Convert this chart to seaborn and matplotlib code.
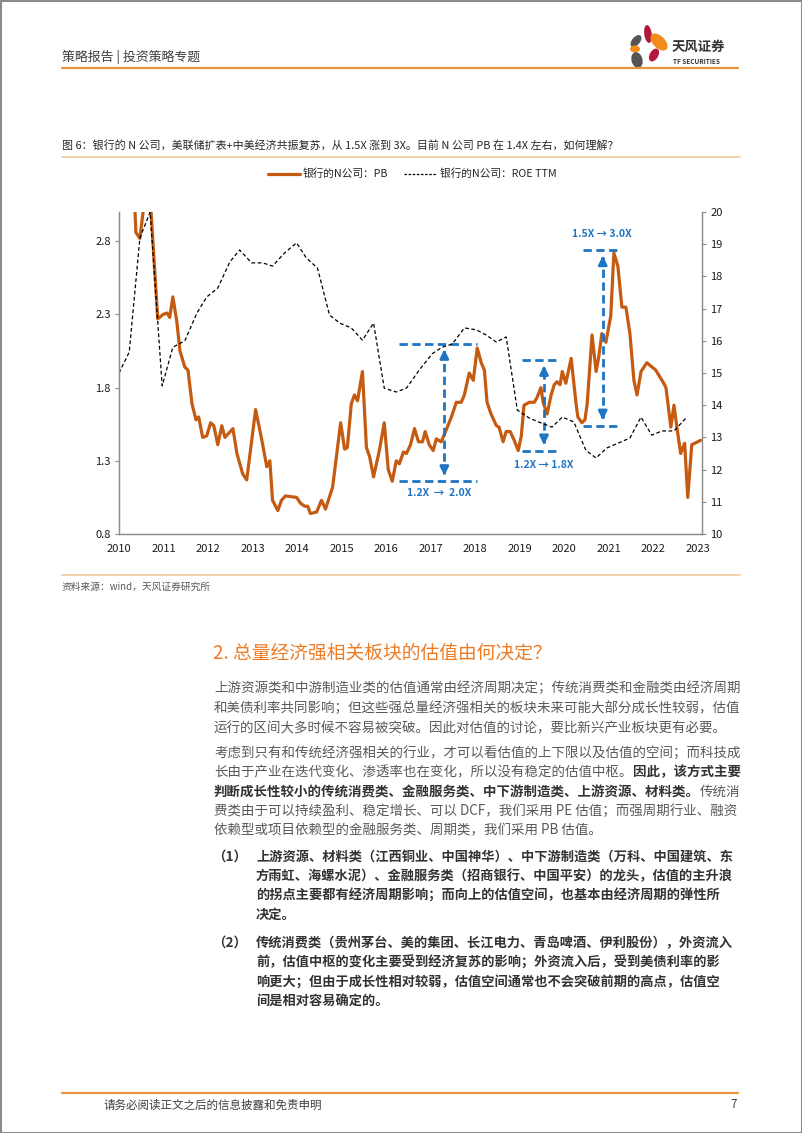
import numpy as np
import pandas as pd
import matplotlib
matplotlib.use("Agg")
import matplotlib.pyplot as plt
from matplotlib.patches import Ellipse, Rectangle
from matplotlib.lines import Line2D
import seaborn as sns

# ---------------- data ----------------
pb_year = [2010.30, 2010.38, 2010.47, 2010.60, 2010.70, 2010.87, 2010.99, 2011.08, 2011.14,
           2011.21, 2011.30, 2011.37, 2011.48, 2011.55, 2011.64, 2011.73, 2011.79, 2011.88,
           2011.97, 2012.06, 2012.13, 2012.22, 2012.31, 2012.38, 2012.56, 2012.65, 2012.78,
           2012.87, 2013.07, 2013.21, 2013.32, 2013.39, 2013.45, 2013.57, 2013.65, 2013.74,
           2013.99, 2014.08, 2014.17, 2014.24, 2014.30, 2014.44, 2014.55, 2014.64, 2014.80,
           2014.98, 2015.07, 2015.13, 2015.22, 2015.29, 2015.36, 2015.47, 2015.56, 2015.63,
           2015.72, 2015.85, 2015.96, 2016.05, 2016.14, 2016.23, 2016.30, 2016.39, 2016.46,
           2016.55, 2016.64, 2016.73, 2016.82, 2016.88, 2016.97, 2017.06, 2017.13, 2017.24,
           2017.31, 2017.47, 2017.58, 2017.69, 2017.76, 2017.87, 2017.96, 2018.05, 2018.14,
           2018.21, 2018.27, 2018.36, 2018.48, 2018.54, 2018.63, 2018.70, 2018.79, 2018.88,
           2018.97, 2019.04, 2019.10, 2019.22, 2019.33, 2019.39, 2019.48, 2019.53, 2019.62,
           2019.71, 2019.78, 2019.84, 2019.91, 2019.96, 2020.04, 2020.16, 2020.27, 2020.31,
           2020.40, 2020.47, 2020.52, 2020.63, 2020.72, 2020.78, 2020.85, 2020.94, 2021.05,
           2021.12, 2021.21, 2021.30, 2021.39, 2021.48, 2021.57, 2021.64, 2021.73, 2021.86,
           2022.06, 2022.24, 2022.29, 2022.40, 2022.47, 2022.54, 2022.62, 2022.71, 2022.78,
           2022.87, 2023.07]
pb_value = [3.40, 2.86, 2.82, 3.15, 3.10, 2.27, 2.30, 2.31, 2.28,
            2.42, 2.25, 2.05, 1.94, 1.92, 1.69, 1.58, 1.60, 1.46,
            1.47, 1.56, 1.54, 1.41, 1.54, 1.46, 1.52, 1.35, 1.21,
            1.17, 1.65, 1.44, 1.26, 1.30, 1.03, 0.96, 1.03, 1.06,
            1.05, 1.01, 0.99, 0.99, 0.94, 0.95, 1.03, 0.97, 1.12,
            1.56, 1.38, 1.39, 1.69, 1.75, 1.71, 1.91, 1.39, 1.33,
            1.19, 1.37, 1.56, 1.24, 1.16, 1.30, 1.28, 1.36, 1.35,
            1.41, 1.52, 1.43, 1.43, 1.50, 1.41, 1.37, 1.45, 1.43,
            1.48, 1.60, 1.70, 1.70, 1.75, 1.90, 1.85, 2.07, 1.97,
            1.92, 1.70, 1.62, 1.54, 1.53, 1.43, 1.50, 1.50, 1.44,
            1.37, 1.47, 1.68, 1.70, 1.70, 1.73, 1.80, 1.70, 1.62,
            1.75, 1.82, 1.84, 1.82, 1.91, 1.83, 2.00, 1.69, 1.60,
            1.56, 1.58, 1.69, 2.16, 1.91, 2.01, 2.17, 2.11, 2.29,
            2.72, 2.63, 2.35, 2.35, 2.17, 1.85, 1.75, 1.91, 1.97,
            1.92, 1.83, 1.80, 1.53, 1.68, 1.52, 1.35, 1.42, 1.05,
            1.41, 1.44]

roe_year = [2010.00, 2010.23, 2010.47, 2010.70, 2010.97, 2011.21, 2011.48, 2011.75, 2011.97,
            2012.22, 2012.49, 2012.71, 2012.98, 2013.23, 2013.45, 2013.72, 2013.99, 2014.21,
            2014.46, 2014.73, 2014.96, 2015.22, 2015.47, 2015.72, 2015.96, 2016.23, 2016.46,
            2016.75, 2017.04, 2017.26, 2017.49, 2017.76, 2018.03, 2018.25, 2018.48, 2018.70,
            2018.95, 2019.22, 2019.48, 2019.73, 2019.96, 2020.22, 2020.49, 2020.72, 2020.96,
            2021.23, 2021.48, 2021.73, 2021.97, 2022.20, 2022.47, 2022.74]
roe_value = [15.0, 15.65, 19.2, 20.0, 14.6, 15.8, 16.0, 16.86, 17.36,
             17.64, 18.45, 18.82, 18.42, 18.42, 18.32, 18.73, 19.04, 18.57,
             18.26, 16.8, 16.55, 16.4, 16.02, 16.55, 14.53, 14.41, 14.53,
             15.1, 15.6, 15.8, 15.9, 16.4, 16.34, 16.18, 15.96, 16.12,
             13.85, 13.6, 13.45, 13.32, 13.63, 13.48, 12.6, 12.36, 12.67,
             12.83, 12.98, 13.63, 13.07, 13.2, 13.2, 13.6]

year_ticks = list(range(2010, 2024))
pb_ticks = [0.8, 1.3, 1.8, 2.3, 2.8]
roe_ticks = list(range(10, 21))

# annotation boxes: (x of arrow, x from, x to, low PB, high PB, label, label x, label y)
notes = [
    (2017.31, 2016.30, 2018.05, 1.16, 2.10, "1.2X  →  2.0X", 2017.20, 1.08),
    (2019.55, 2019.06, 2019.91, 1.37, 1.99, "1.2X → 1.8X", 2019.55, 1.27),
    (2020.87, 2020.43, 2021.23, 1.54, 2.74, "1.5X → 3.0X", 2020.84, 2.85),
]

df_pb = pd.DataFrame({"year": pb_year, "pb": pb_value})
df_roe = pd.DataFrame({"year": roe_year, "roe": roe_value})

W, H = 802, 1133
ORANGE_LINE = "#C55A11"
BLUE = "#1F74C4"
HEAD_ORANGE = "#E9913B"
LIGHT_ORANGE = "#F6CDA8"
TXT = "#595959"
DARK = "#333333"

sns.set_style("white")
plt.rcParams["font.family"] = ["Noto Sans CJK SC", "DejaVu Sans"]
plt.rcParams["axes.unicode_minus"] = False

fig = plt.figure(figsize=(W / 100, H / 100), dpi=100)

# page layer in pixel coordinates
pg = fig.add_axes([0, 0, 1, 1], zorder=0)
pg.set_xlim(0, W)
pg.set_ylim(H, 0)
pg.set_axis_off()

# ---------------- chart ----------------
ax = fig.add_axes([119 / W, 1 - 534 / H, 583 / W, 322 / H], zorder=2)
ax.patch.set_alpha(0)
sns.lineplot(data=df_pb, x="year", y="pb", ax=ax, color=ORANGE_LINE, linewidth=2.3,
             estimator=None, sort=False, legend=False)
ax2 = ax.twinx()
sns.lineplot(data=df_roe, x="year", y="roe", ax=ax2, color="black", linewidth=0.9,
             estimator=None, sort=False, legend=False)
ax2.lines[0].set_dashes([3, 2])

ax.set_xlim(2010, 2023.1)
ax.set_ylim(0.8, 3.0)
ax2.set_ylim(10, 20)
ax.set_xticks(year_ticks)
ax.set_xticklabels([str(y) for y in year_ticks])
ax.set_yticks(pb_ticks)
ax.set_yticklabels([f"{v:.1f}" for v in pb_ticks])
ax2.set_yticks(roe_ticks)
for a in (ax, ax2):
    a.set_xlabel("")
    a.set_ylabel("")
    for s in a.spines.values():
        s.set_color("#8C8C8C")
        s.set_linewidth(0.9)
    a.spines["top"].set_visible(False)
    a.tick_params(labelsize=8, colors="#8C8C8C", labelcolor="#1A1A1A", length=3, width=0.8,
                  direction="out", pad=3)
ax.tick_params(axis="x", pad=4)

# blue dashed brackets and arrows
for xa, x0, x1, lo, hi, label, lx, ly in notes:
    for yy in (lo, hi):
        ax.plot([x0, x1], [yy, yy], color=BLUE, lw=2.0, dashes=(3, 1.6), solid_capstyle="butt")
    ax.plot([xa, xa], [lo + 0.05, hi - 0.05], color=BLUE, lw=2.0, dashes=(3, 1.6))
    ax.annotate("", xy=(xa, hi - 0.02), xytext=(xa, hi - 0.09),
                arrowprops=dict(arrowstyle="-|>,head_length=0.5,head_width=0.25", color=BLUE, lw=2))
    ax.annotate("", xy=(xa, lo + 0.02), xytext=(xa, lo + 0.09),
                arrowprops=dict(arrowstyle="-|>,head_length=0.5,head_width=0.25", color=BLUE, lw=2))
    ax.text(lx, ly, label, color=BLUE, fontsize=7.5, fontweight="bold", ha="center", va="center")

# legend above the plot
handles = [Line2D([], [], color=ORANGE_LINE, lw=2.3),
           Line2D([], [], color="black", lw=0.9, dashes=[2, 1.3])]
fig.legend(handles, ["银行的N公司：PB", "银行的N公司：ROE TTM"], loc="center",
           bbox_to_anchor=(412 / W, 1 - 174 / H), ncol=2, frameon=False, fontsize=7.7,
           handlelength=3.0, columnspacing=1.5, handletextpad=0.3)

# ---------------- page decorations ----------------
def put(x, y, s, **kw):
    kw.setdefault("va", "center")
    kw.setdefault("ha", "left")
    return pg.text(x, y, s, **kw)

renderer = fig.canvas.get_renderer()

def right_edge(t):
    return t.get_window_extent(renderer).x1

# header
put(62, 57, "策略报告 | 投资策略专题", fontsize=9.3, color="#3F3F3F")
pg.plot([62, 738], [68, 68], color=HEAD_ORANGE, lw=1.6)
petals = [
    ((648, 34), 7.5, 18, -8, "#B3173B"),
    ((636, 41), 8, 14, 40, "#555555"),
    ((659, 42), 12, 21, -45, "#F28C1A"),
    ((635, 49), 10, 7, 0, "#F28C1A"),
    ((654, 55), 8.5, 14, 30, "#B3173B"),
    ((637, 60), 11, 16, -15, "#555555"),
]
for c, w, h, ang, col in petals:
    pg.add_patch(Ellipse(c, w, h, angle=ang, color=col, lw=0))
put(672, 47, "天风证券", fontsize=9.6, fontweight="bold", color="#333333")
put(673, 62, "TF SECURITIES", fontsize=4.6, fontweight="bold", color="#333333")

# figure caption
put(62, 145, "图 6：银行的 N 公司，美联储扩表+中美经济共振复苏，从 1.5X 涨到 3X。目前 N 公司 PB 在 1.4X 左右，如何理解？",
    fontsize=7.9, color="#262626")
pg.plot([62, 740], [157, 157], color=LIGHT_ORANGE, lw=1.3)
pg.plot([62, 740], [575, 575], color=LIGHT_ORANGE, lw=1.3)
put(62, 587, "资料来源：wind，天风证券研究所", fontsize=7.0, color=TXT)

# section heading
put(213, 653, "2. 总量经济强相关板块的估值由何决定？", fontsize=13.5, color="#EE7A22")

FS = 9.7
p1 = ["上游资源类和中游制造业类的估值通常由经济周期决定；传统消费类和金融类由经济周期",
      "和美债利率共同影响；但这些强总量经济强相关的板块未来可能大部分成长性较弱，估值",
      "运行的区间大多时候不容易被突破。因此对估值的讨论，要比新兴产业板块更有必要。"]
for i, line in enumerate(p1):
    put(214, 688 + 20 * i, line, fontsize=FS, color=TXT)

put(214, 753, "考虑到只有和传统经济强相关的行业，才可以看估值的上下限以及估值的空间；而科技成",
    fontsize=FS, color=TXT)
t = put(214, 772, "长由于产业在迭代变化、渗透率也在变化，所以没有稳定的估值中枢。", fontsize=FS, color=TXT)
put(right_edge(t), 772, "因此，该方式主要", fontsize=FS, color=DARK, fontweight="bold")
t = put(214, 792, "判断成长性较小的传统消费类、金融服务类、中下游制造类、上游资源、材料类。",
        fontsize=FS, color=DARK, fontweight="bold")
put(right_edge(t), 792, "传统消", fontsize=FS, color=TXT)
put(214, 811, "费类由于可以持续盈利、稳定增长、可以 DCF，我们采用 PE 估值；而强周期行业、融资",
    fontsize=FS, color=TXT)
put(214, 830, "依赖型或项目依赖型的金融服务类、周期类，我们采用 PB 估值。", fontsize=FS, color=TXT)

item1 = ["上游资源、材料类（江西铜业、中国神华）、中下游制造类（万科、中国建筑、东",
         "方雨虹、海螺水泥）、金融服务类（招商银行、中国平安）的龙头，估值的主升浪",
         "的拐点主要都有经济周期影响；而向上的估值空间，也基本由经济周期的弹性所",
         "决定。"]
item2 = ["传统消费类（贵州茅台、美的集团、长江电力、青岛啤酒、伊利股份），外资流入",
         "前，估值中枢的变化主要受到经济复苏的影响；外资流入后，受到美债利率的影",
         "响更大；但由于成长性相对较弱，估值空间通常也不会突破前期的高点，估值空",
         "间是相对容易确定的。"]
for y0, tag, lines in ((857, "（1）", item1), (943, "（2）", item2)):
    put(212, y0, tag, fontsize=FS, color=DARK, fontweight="bold")
    for i, line in enumerate(lines):
        put(256, y0 + 19.2 * i, line, fontsize=9.5, color=DARK, fontweight="bold")

# footer
pg.plot([62, 738], [1093, 1093], color=HEAD_ORANGE, lw=1.6)
put(103, 1105, "请务必阅读正文之后的信息披露和免责申明", fontsize=8.3, color="#3F3F3F")
put(737, 1105, "7", fontsize=8.3, color="#3F3F3F", ha="right")

# thin page frame
pg.add_patch(Rectangle((0.5, 0.5), W - 1, H - 1, fill=False, edgecolor="#8A8A8A", lw=1.5))

fig.savefig("out.png", dpi=100)
